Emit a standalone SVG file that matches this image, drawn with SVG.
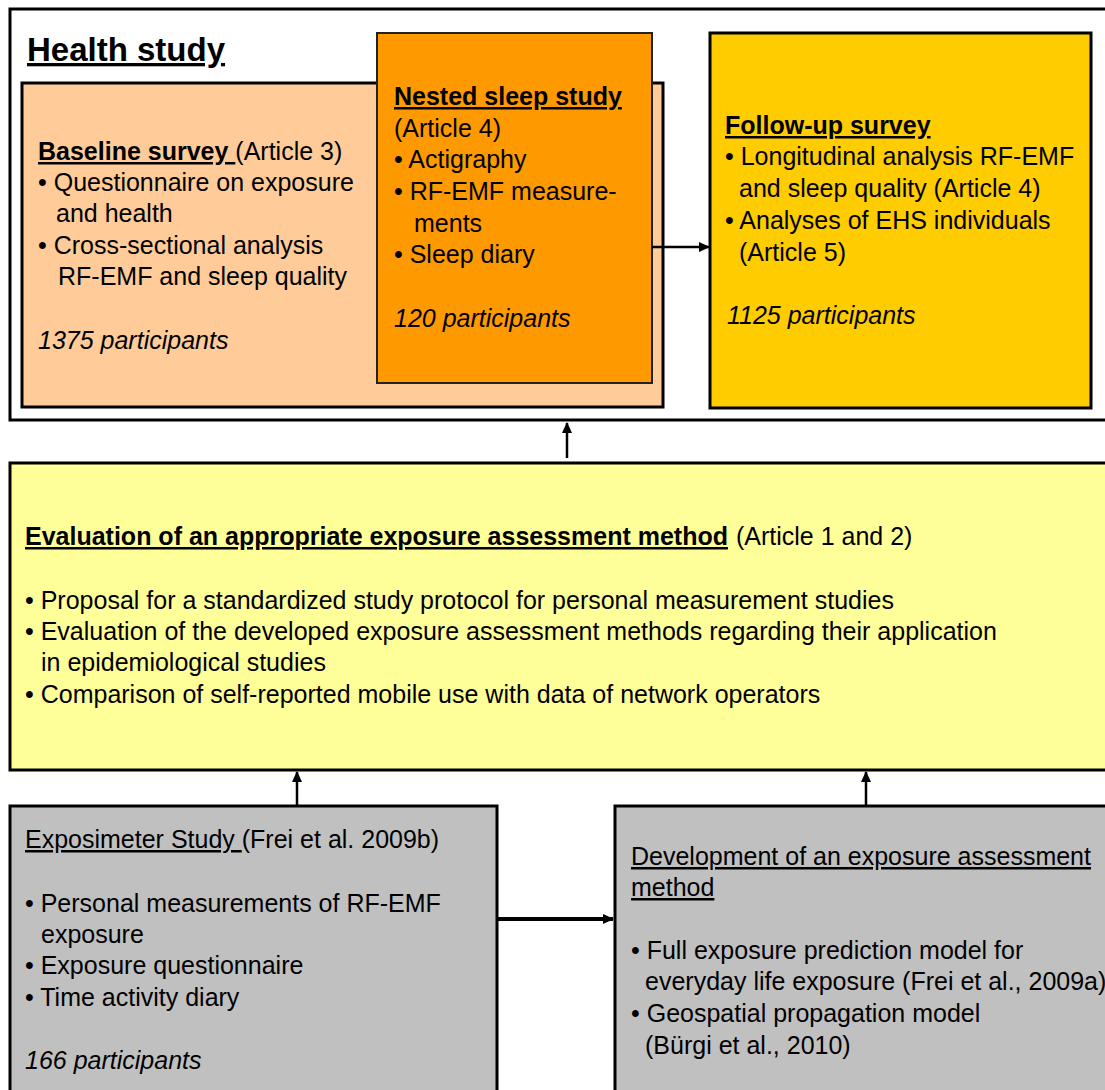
<svg xmlns="http://www.w3.org/2000/svg" width="1105" height="1090" viewBox="0 0 1105 1090">
<defs>
<style>
text{font-family:"Liberation Sans",Arial,sans-serif;font-size:25px;fill:#000}
.b{font-weight:bold}
.u{text-decoration:underline}
.i{font-style:italic}
.box{stroke:#000;stroke-width:3}
.ln{stroke:#000;stroke-width:2.5;fill:none}
</style>
<marker id="ah" markerWidth="11" markerHeight="11" refX="10" refY="5.5" orient="auto" markerUnits="userSpaceOnUse">
<path d="M0,0.5 L11,5.5 L0,10.5 z" fill="#000"/>
</marker>
</defs>
<rect width="1105" height="1090" fill="#fff"/>

<g id="health-study">
<rect x="10" y="9" width="1110" height="411" fill="#fff" class="box"/>
<text x="27" y="61" class="b u" style="font-size:33px">Health study</text>
</g>

<g id="baseline-survey">
<rect x="22" y="83" width="641" height="324" fill="#FFCC99" class="box"/>
<text x="38" y="160"><tspan class="b u">Baseline survey </tspan><tspan>(Article 3)</tspan></text>
<text x="38" y="191">• Questionnaire on exposure</text>
<text x="56" y="222">and health</text>
<text x="38" y="254">• Cross-sectional analysis</text>
<text x="58" y="285">RF-EMF and sleep quality</text>
<text x="38" y="349" class="i">1375 participants</text>
</g>

<g id="nested-sleep-study">
<rect x="377" y="33" width="275" height="350" fill="#FF9900" stroke="#222" stroke-width="2"/>
<text x="394" y="105" class="b u">Nested sleep study</text>
<text x="394" y="137">(Article 4)</text>
<text x="394" y="168">• Actigraphy</text>
<text x="394" y="200">• RF-EMF measure-</text>
<text x="414" y="232">ments</text>
<text x="394" y="263">• Sleep diary</text>
<text x="394" y="327" class="i">120 participants</text>
</g>

<g id="follow-up-survey">
<rect x="710" y="33" width="381" height="375" fill="#FFCC00" class="box"/>
<text x="725" y="134" class="b u">Follow-up survey</text>
<text x="725" y="165">• Longitudinal analysis RF-EMF</text>
<text x="739" y="197">and sleep quality (Article 4)</text>
<text x="725" y="229">• Analyses of EHS individuals</text>
<text x="739" y="261">(Article 5)</text>
<text x="727" y="324" class="i">1125 participants</text>
</g>

<g id="evaluation">
<rect x="10" y="463" width="1110" height="307" fill="#FFFF99" class="box"/>
<text x="25" y="545"><tspan class="b u">Evaluation of an appropriate exposure assessment method</tspan><tspan dx="8">(Article 1 and 2)</tspan></text>
<text x="25" y="609">• Proposal for a standardized study protocol for personal measurement studies</text>
<text x="25" y="640">• Evaluation of the developed exposure assessment methods regarding their application</text>
<text x="41" y="671">in epidemiological studies</text>
<text x="25" y="703">• Comparison of self-reported mobile use with data of network operators</text>
</g>

<g id="exposimeter-study">
<rect x="10" y="806" width="487" height="300" fill="#C0C0C0" class="box"/>
<text x="25" y="848"><tspan class="u">Exposimeter Study </tspan><tspan>(Frei et al. 2009b)</tspan></text>
<text x="25" y="912">• Personal measurements of RF-EMF</text>
<text x="41" y="943">exposure</text>
<text x="25" y="974">• Exposure questionnaire</text>
<text x="25" y="1006">• Time activity diary</text>
<text x="25" y="1069" class="i">166 participants</text>
</g>

<g id="development">
<rect x="615" y="806" width="510" height="300" fill="#C0C0C0" class="box"/>
<text x="631" y="865" class="u">Development of an exposure assessment</text>
<text x="631" y="896" class="u">method</text>
<text x="631" y="959">• Full exposure prediction model for</text>
<text x="645" y="990">everyday life exposure (Frei et al., 2009a)</text>
<text x="631" y="1022">• Geospatial propagation model</text>
<text x="645" y="1054">(Bürgi et al., 2010)</text>
</g>

<g id="connectors">
<line x1="652" y1="247" x2="709" y2="247" class="ln" marker-end="url(#ah)"/>
<line x1="567" y1="458" x2="567" y2="423" class="ln" marker-end="url(#ah)"/>
<line x1="297" y1="805" x2="297" y2="772" class="ln" marker-end="url(#ah)"/>
<line x1="866" y1="805" x2="866" y2="772" class="ln" marker-end="url(#ah)"/>
<line x1="497" y1="919" x2="613" y2="919" stroke="#000" stroke-width="4" marker-end="url(#ah)"/>
</g>
</svg>
